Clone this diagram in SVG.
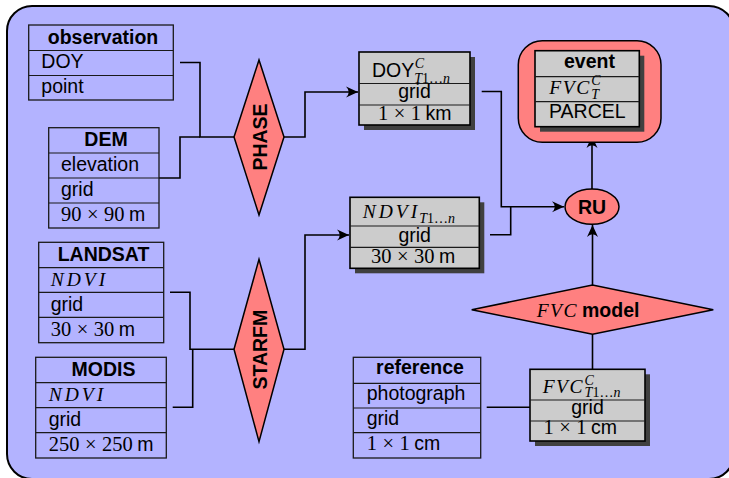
<svg xmlns="http://www.w3.org/2000/svg" width="729" height="478" viewBox="0 0 729 478">
<style>
.sans{font-family:"Liberation Sans",Arial,sans-serif;font-size:19.5px;fill:#000}
.b{font-weight:bold}
.serif{font-family:"Liberation Serif","Times New Roman",serif;font-size:20.5px}
.mi{font-family:"Liberation Serif","Times New Roman",serif;font-style:italic}
.up{font-style:normal}
.s14{font-size:14px}
.wbox{fill:none;stroke:#1a1a1a;stroke-width:1.3}
.gbox{fill:#cccccc;stroke:#000;stroke-width:1.6}
.shadow{fill:#404040}
.sep{stroke:#1a1a1a;stroke-width:1.2}
.red{fill:#ff8080;stroke:#000;stroke-width:1.5}
.conn{fill:none;stroke:#000;stroke-width:1.6}
.mid{text-anchor:middle}
</style>
<defs>
<marker id="arr" markerUnits="userSpaceOnUse" viewBox="-12 -6 13 12" refX="0" refY="0" markerWidth="13" markerHeight="12" orient="auto">
<path d="M0,0 L-12,-5.5 Q-6.5,0 -12,5.5 Z" fill="#000"/>
</marker>
</defs>
<rect x="7" y="6" width="727" height="473" rx="25" fill="#b3b3ff" stroke="#000" stroke-width="2"/>

<g id="connectors">
<path class="conn" d="M180 62.5 H200 V137 H234"/>
<path class="conn" d="M159 178 H180 V137 H200"/>
<path class="conn" d="M284 137 H305 V92 H358" marker-end="url(#arr)"/>
<path class="conn" d="M481.7 91.5 H501.3 V206.7 H564" marker-end="url(#arr)"/>
<path class="conn" d="M490 234.7 H510.7 V206.7"/>
<path class="conn" d="M170 292.3 H190 V349.3 H234"/>
<path class="conn" d="M172.7 407.3 H192.7 V349.3"/>
<path class="conn" d="M284 349.3 H305 V235 H349" marker-end="url(#arr)"/>
<path class="conn" d="M592 189 V136" marker-end="url(#arr)"/>
<path class="conn" d="M592.5 285 V225" marker-end="url(#arr)"/>
<path class="conn" d="M592.5 369.3 V334.3"/>
<path class="conn" d="M486.7 407.3 H530"/>
</g>

<g id="observation">
<rect class="wbox" x="28.7" y="25" width="144.6" height="75"/>
<line class="sep" x1="28.7" y1="50.5" x2="173.3" y2="50.5"/>
<line class="sep" x1="28.7" y1="75.5" x2="173.3" y2="75.5"/>
<text class="sans b mid" x="103" y="43.5">observation</text>
<text class="sans" x="41.3" y="68">DOY</text>
<text class="sans" x="41.3" y="93">point</text>
</g>

<g id="dem">
<rect class="wbox" x="48.7" y="127.7" width="110.3" height="100.3"/>
<line class="sep" x1="48.7" y1="153" x2="159" y2="153"/>
<line class="sep" x1="48.7" y1="178" x2="159" y2="178"/>
<line class="sep" x1="48.7" y1="203" x2="159" y2="203"/>
<text class="sans b mid" x="106" y="146">DEM</text>
<text class="sans" x="61" y="171">elevation</text>
<text class="sans" x="61" y="196">grid</text>
<text class="sans" x="61" y="221"><tspan class="serif">90</tspan><tspan class="serif" dx="5.5">×</tspan><tspan class="serif" dx="5.5">90</tspan><tspan dx="4.5">m</tspan></text>
</g>

<g id="landsat">
<rect class="wbox" x="38.7" y="242.3" width="125" height="100.4"/>
<line class="sep" x1="38.7" y1="267.7" x2="163.7" y2="267.7"/>
<line class="sep" x1="38.7" y1="292.3" x2="163.7" y2="292.3"/>
<line class="sep" x1="38.7" y1="317.3" x2="163.7" y2="317.3"/>
<text class="sans b mid" x="103.5" y="261">LANDSAT</text>
<text class="sans mi" x="50.7" y="286" letter-spacing="3">NDVI</text>
<text class="sans" x="50.7" y="311">grid</text>
<text class="sans" x="50.7" y="336"><tspan class="serif">30</tspan><tspan class="serif" dx="5.5">×</tspan><tspan class="serif" dx="5.5">30</tspan><tspan dx="4.5">m</tspan></text>
</g>

<g id="modis">
<rect class="wbox" x="35.7" y="357.3" width="130.6" height="100.7"/>
<line class="sep" x1="35.7" y1="382.7" x2="166.3" y2="382.7"/>
<line class="sep" x1="35.7" y1="407.7" x2="166.3" y2="407.7"/>
<line class="sep" x1="35.7" y1="432.7" x2="166.3" y2="432.7"/>
<text class="sans b mid" x="103.5" y="376">MODIS</text>
<text class="sans mi" x="48.7" y="401" letter-spacing="3">NDVI</text>
<text class="sans" x="48.7" y="426">grid</text>
<text class="sans" x="48.7" y="451"><tspan class="serif">250</tspan><tspan class="serif" dx="5.5">×</tspan><tspan class="serif" dx="5.5">250</tspan><tspan dx="4.5">m</tspan></text>
</g>

<g id="phase">
<polygon class="red" points="234,137 259,60 284,137 259,215"/>
<text class="sans b mid" transform="translate(266.7 137) rotate(-90)">PHASE</text>
</g>

<g id="starfm">
<polygon class="red" points="234,349.3 259,259.3 284,349.3 259,441.7"/>
<text class="sans b mid" transform="translate(266.7 349.7) rotate(-90)">STARFM</text>
</g>

<g id="doy">
<rect class="shadow" x="364" y="57" width="111" height="73"/>
<rect class="gbox" x="359" y="52" width="111" height="73"/>
<line class="sep" x1="359" y1="83.5" x2="470" y2="83.5"/>
<line class="sep" x1="359" y1="105" x2="470" y2="105"/>
<text class="sans" x="372" y="77">DOY<tspan class="mi s14" dx="0.5" dy="-9">C</tspan><tspan class="mi s14" dx="-9.8" dy="14.7">T<tspan class="up">1…</tspan>n</tspan></text>
<text class="sans mid" x="414.5" y="97.5">grid</text>
<text class="sans" x="378" y="119.5"><tspan class="serif">1</tspan><tspan class="serif" dx="5.5">×</tspan><tspan class="serif" dx="5.5">1</tspan><tspan dx="4.5">km</tspan></text>
</g>

<g id="ndvi">
<rect class="shadow" x="355" y="202.3" width="129.3" height="71"/>
<rect class="gbox" x="350" y="197.3" width="129.3" height="71"/>
<line class="sep" x1="350" y1="226" x2="479.3" y2="226"/>
<line class="sep" x1="350" y1="247.3" x2="479.3" y2="247.3"/>
<text class="sans" x="362.7" y="218.3"><tspan class="mi" letter-spacing="3">NDV</tspan><tspan class="mi">I</tspan><tspan class="mi s14" dx="2" dy="5">T<tspan class="up">1…</tspan>n</tspan></text>
<text class="sans mid" x="414.7" y="241.7">grid</text>
<text class="sans" x="371" y="262.7"><tspan class="serif">30</tspan><tspan class="serif" dx="5.5">×</tspan><tspan class="serif" dx="5.5">30</tspan><tspan dx="4.5">m</tspan></text>
</g>

<g id="event">
<rect class="red" x="518.3" y="40.7" width="142.7" height="101.6" rx="24"/>
<rect class="shadow" x="540" y="55.7" width="104.3" height="76"/>
<rect class="gbox" x="535" y="50.7" width="104.3" height="76"/>
<line class="sep" x1="535" y1="76.7" x2="639.3" y2="76.7"/>
<line class="sep" x1="535" y1="101.7" x2="639.3" y2="101.7"/>
<text class="sans b mid" x="589.5" y="68.3">event</text>
<text class="sans" x="549.3" y="94.3"><tspan class="mi" letter-spacing="1.5">FV</tspan><tspan class="mi">C</tspan><tspan class="mi s14" dx="2" dy="-9">C</tspan><tspan class="mi s14" dx="-9.3" dy="13.5">T</tspan></text>
<text class="sans" x="549" y="117.7">PARCEL</text>
</g>

<g id="ru">
<ellipse class="red" cx="592" cy="206.7" rx="27" ry="17.6"/>
<text class="sans b mid" x="592" y="213.5">RU</text>
</g>

<g id="fvcmodel">
<polygon class="red" points="471.7,309.7 592.5,285 713.3,309.7 592.5,334.3"/>
<text class="sans" x="536.7" y="317.3"><tspan class="mi" letter-spacing="1.5">FVC</tspan><tspan class="b" dx="4">model</tspan></text>
</g>

<g id="reference">
<rect class="wbox" x="353.3" y="357.3" width="127.4" height="100.7"/>
<line class="sep" x1="353.3" y1="383.3" x2="480.7" y2="383.3"/>
<line class="sep" x1="353.3" y1="408" x2="480.7" y2="408"/>
<line class="sep" x1="353.3" y1="432.7" x2="480.7" y2="432.7"/>
<text class="sans b mid" x="420" y="374">reference</text>
<text class="sans" x="366.7" y="400">photograph</text>
<text class="sans" x="366.7" y="425">grid</text>
<text class="sans" x="366.7" y="449.5"><tspan class="serif">1</tspan><tspan class="serif" dx="5.5">×</tspan><tspan class="serif" dx="5.5">1</tspan><tspan dx="4.5">cm</tspan></text>
</g>

<g id="fvct">
<rect class="shadow" x="535" y="374.3" width="115" height="71.7"/>
<rect class="gbox" x="530" y="369.3" width="115" height="71.7"/>
<line class="sep" x1="530" y1="400" x2="645" y2="400"/>
<line class="sep" x1="530" y1="421" x2="645" y2="421"/>
<text class="sans" x="542.7" y="392.7"><tspan class="mi" letter-spacing="1.5">FV</tspan><tspan class="mi">C</tspan><tspan class="mi s14" dx="2" dy="-8">C</tspan><tspan class="mi s14" dx="-9.3" dy="12.6">T<tspan class="up">1…</tspan>n</tspan></text>
<text class="sans mid" x="587.5" y="413.5">grid</text>
<text class="sans" x="543.5" y="434"><tspan class="serif">1</tspan><tspan class="serif" dx="5.5">×</tspan><tspan class="serif" dx="5.5">1</tspan><tspan dx="4.5">cm</tspan></text>
</g>
</svg>
